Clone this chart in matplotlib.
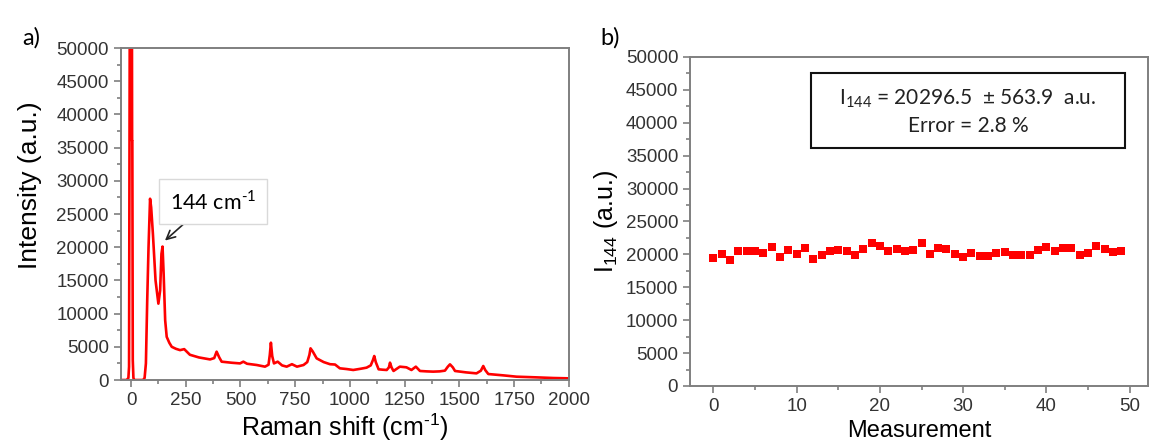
import matplotlib.pyplot as plt
from matplotlib.patches import Rectangle
from matplotlib.ticker import MultipleLocator

# spectrum (panel a)
raman_shift = [-47, -20, -12, -9, -6, -3, -1, 3, 5, 6, 8, 11, 15, 30, 55, 62, 68, 74,
               80, 87, 92, 100, 112, 125, 133, 139, 144, 149, 156, 163, 175, 186,
               205, 224, 243, 269, 310, 361, 380, 391, 403, 414, 460, 498, 513, 530,
               574, 612, 628, 634, 639, 645, 653, 670, 690, 711, 735, 758, 788, 805,
               815, 820, 830, 848, 880, 909, 932, 954, 985, 1015, 1050, 1076, 1095,
               1105, 1111, 1118, 1131, 1150, 1168, 1178, 1183, 1190, 1199, 1228,
               1258, 1281, 1301, 1320, 1350, 1380, 1410, 1434, 1447, 1457, 1470,
               1480, 1530, 1578, 1598, 1609, 1618, 1632, 1700, 1761, 1850, 1930, 2000]
intensity = [0, 0, 300, 2000, 50000, 80000, 80000, 80000, 36000, 36000, 3000, 300, 0, 0,
             0, 300, 2500, 12000, 20000, 27300, 26000, 22000, 15000, 11500, 13500,
             19000, 20100, 16000, 9000, 6500, 5600, 5000, 4700, 4500, 4650, 3800,
             3400, 3100, 3300, 4270, 3400, 2760, 2600, 2500, 2760, 2450, 2260, 2010,
             2300, 3800, 5620, 3600, 2500, 2760, 2200, 2010, 2380, 2010, 2260, 2700,
             3800, 4770, 4300, 3260, 2700, 2380, 2330, 1760, 1650, 1510, 1700, 1860,
             2200, 3000, 3610, 2700, 1610, 1550, 1510, 1900, 2610, 1900, 1360, 2010,
             1910, 1510, 2010, 1360, 1300, 1260, 1300, 1410, 2000, 2360, 1900, 1360,
             1150, 1000, 1400, 2110, 1500, 900, 700, 500, 400, 300, 250]

# I144 over repeated measurements (panel b)
measurement = list(range(50))
i144 = [19380, 20040, 19125, 20450, 20450, 20450, 20200, 21110, 19630, 20600,
        19990, 21010, 19230, 19940, 20450, 20600, 20450, 19840, 20810, 21680,
        21270, 20450, 20760, 20500, 20600, 21780, 20040, 20910, 20760, 20040,
        19530, 20250, 19740, 19690, 20200, 20400, 19940, 19940, 19940, 20600,
        21110, 20500, 20910, 20910, 19890, 20200, 21270, 20760, 20300, 20550]

SPINE = "#7f7f7f"
TICKCOL = "#333333"
plt.rcParams["font.family"] = ["Liberation Sans", "DejaVu Sans"]
plt.rcParams["mathtext.fontset"] = "custom"
plt.rcParams["mathtext.rm"] = "Liberation Sans"

fig = plt.figure(figsize=(11.52, 4.43), dpi=100)
ax_a = fig.add_axes([0.1048, 0.1422, 0.3890, 0.7494])
ax_b = fig.add_axes([0.5990, 0.1287, 0.3975, 0.7427])


def style_axes(ax):
    for sp in ax.spines.values():
        sp.set_color(SPINE)
        sp.set_linewidth(1.4)
    ax.tick_params(which="both", direction="out", color=SPINE, width=1.2,
                   labelsize=13.5, labelcolor=TICKCOL, top=False, right=False)
    ax.tick_params(which="major", length=5)
    ax.tick_params(which="minor", length=3)


# short hyphen in the superscript, as in the original figure
CM_INV = "cm$^{\\mathregular{\u20101}}$"

# panel a
ax_a.plot(raman_shift, intensity, color="#ff0000", linewidth=1.9)
ax_a.set_xlim(-47, 2000)
ax_a.set_ylim(0, 50000)
ax_a.xaxis.set_major_locator(MultipleLocator(250))
ax_a.xaxis.set_minor_locator(MultipleLocator(125))
ax_a.yaxis.set_major_locator(MultipleLocator(5000))
ax_a.yaxis.set_minor_locator(MultipleLocator(2500))
style_axes(ax_a)
ax_a.set_xlabel(f"Raman shift ({CM_INV})", fontsize=18, labelpad=2)
ax_a.set_ylabel("Intensity (a.u.)", fontsize=19, labelpad=2)
ax_a.yaxis.set_label_coords(-0.175, 0.587)
ax_a.annotate(f"144 {CM_INV}", xy=(155, 21000), xytext=(374, 26900),
              fontsize=15.5, family="Lato", ha="center", va="center",
              bbox=dict(boxstyle="square,pad=0.5", fc="white", ec="#d9d9d9", lw=1),
              arrowprops=dict(arrowstyle="->", color="#222222", lw=1.2,
                              shrinkA=0, shrinkB=0,
                              relpos=(0.3, 0.0)))

# panel b
ax_b.plot(measurement, i144, linestyle="none", marker="s", markersize=6.3,
          color="#ff0000", markeredgewidth=0)
ax_b.set_xlim(-2.8, 52.2)
ax_b.set_ylim(0, 50000)
ax_b.xaxis.set_major_locator(MultipleLocator(10))
ax_b.xaxis.set_minor_locator(MultipleLocator(5))
ax_b.yaxis.set_major_locator(MultipleLocator(5000))
ax_b.yaxis.set_minor_locator(MultipleLocator(2500))
style_axes(ax_b)
ax_b.set_xlabel("Measurement", fontsize=17, labelpad=4)
ax_b.set_ylabel("I$_{\\mathregular{144}}$ (a.u.)", fontsize=18, labelpad=4)

ax_b.add_patch(Rectangle((11.7, 36170), 37.8, 11400, fill=False, ec="#111111", lw=1.5))
ax_b.text(30.6, 43700, "I$_{\\mathregular{144}}$ = 20296.5  \u00b1 563.9  a.u.", fontsize=15,
          family="Lato", ha="center", va="center", color="#222222")
ax_b.text(30.6, 39500, "Error = 2.8 %", fontsize=15, family="Lato",
          ha="center", va="center", color="#222222")

fig.text(0.027, 0.915, "a)", fontsize=17, family="Lato", ha="center", va="center")
fig.text(0.530, 0.915, "b)", fontsize=17, family="Lato", ha="center", va="center")

fig.savefig("out.png", dpi=100)
